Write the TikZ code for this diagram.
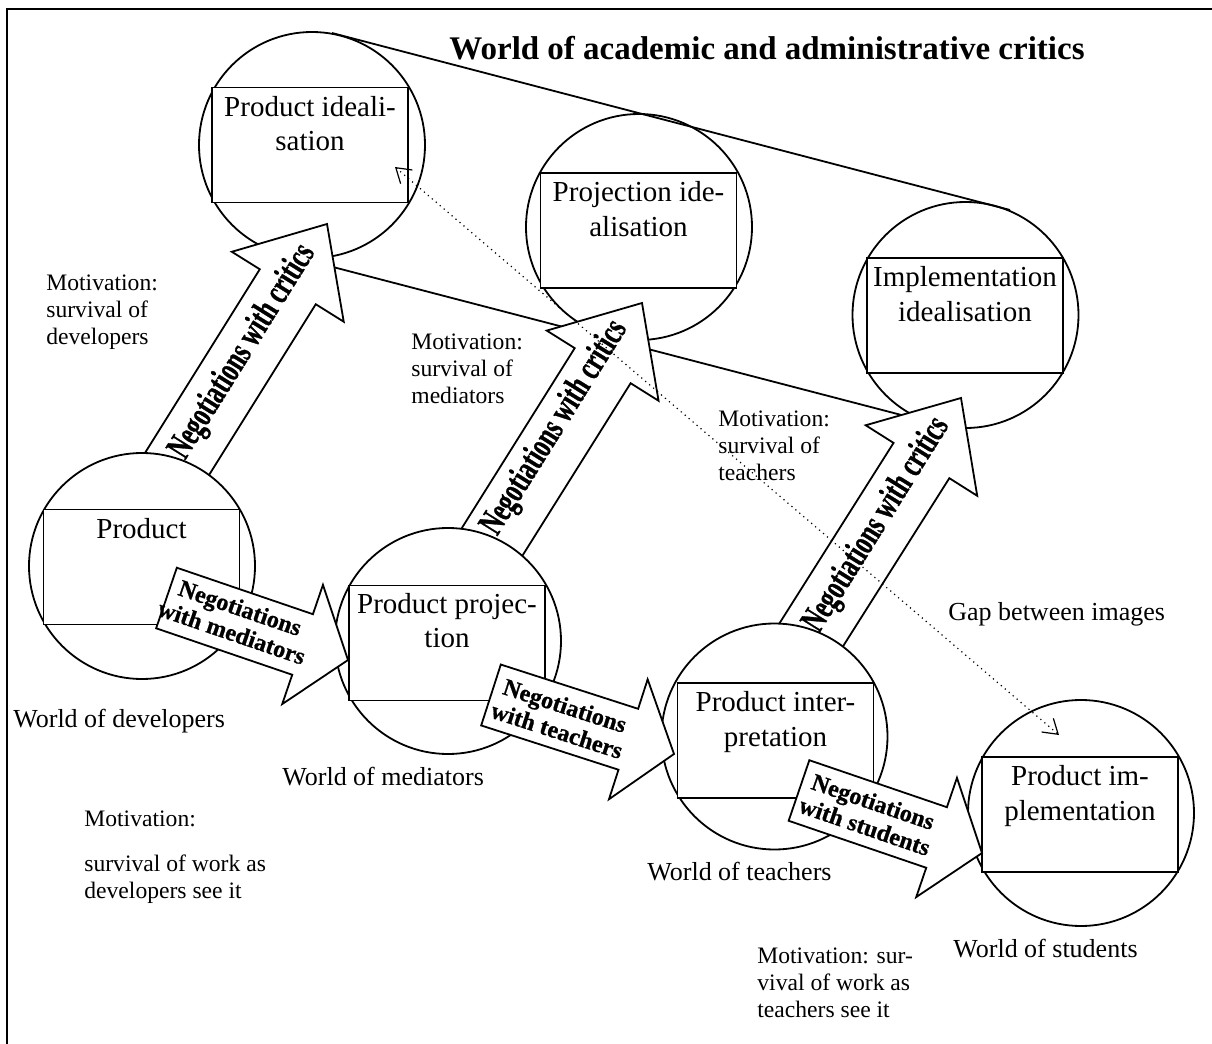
\documentclass[tikz,border=0pt]{standalone}
\usepackage{fontspec}
\setmainfont{Liberation Serif}
\newfontfamily\critfont{Liberation Serif}[FakeStretch=0.66, FakeBold=0.8]
\newfontfamily\negfont{Liberation Serif}[FakeBold=0.8]
\usetikzlibrary{calc,arrows.meta}

% block arrow: #1 tail, #2 tip, #3 half shaft width, #4 half head width, #5 head length
\newcommand\blockarrow[5]{%
  \coordinate (ba-base) at ($(#2)!#5!(#1)$);
  \draw[barrow] ($(#1)!#3!90:(#2)$) -- ($(ba-base)!#3!-90:(#1)$)
    -- ($(ba-base)!#4!-90:(#1)$) -- (#2) -- ($(ba-base)!#4!90:(#1)$)
    -- ($(ba-base)!#3!90:(#1)$) -- ($(#1)!#3!-90:(#2)$) -- cycle;}

\tikzset{
  world/.style={draw, circle, minimum size=113pt, inner sep=0pt, fill=white, line width=0.9pt},
  pbox/.style={draw, rectangle, minimum width=98pt, minimum height=57.5pt, inner sep=0pt, fill=white, line width=0.9pt},
  btext/.style={anchor=base, align=center, inner sep=0pt, font=\fontsize{14.5}{17.25}\selectfont},
  motiv/.style={anchor=base west, align=left, inner sep=0pt, font=\fontsize{11.8}{13.4}\selectfont},
  wlabel/.style={anchor=base west, inner sep=0pt, font=\fontsize{13}{15}\selectfont},
  barrow/.style={draw, fill=white, line width=0.9pt, line join=miter},
  crittext/.style={rotate=58, inner sep=0pt, font=\critfont\bfseries\fontsize{18}{18}\selectfont},
  negtext/.style={inner sep=0pt, align=center, font=\negfont\bfseries\fontsize{12}{13}\selectfont},
  link/.style={line width=0.9pt},
  gap/.style={dotted, line width=0.6pt, {Straight Barb[length=7pt,width=9pt]}-{Straight Barb[length=7pt,width=9pt]}}
}

\begin{document}
\begin{tikzpicture}[x=0.5pt, y=-0.5pt]
\useasboundingbox (0,0) rectangle (1212,1044);

% frame
\draw[line width=1pt] (7,1044) -- (7,9) -- (1212,9);

% worlds of idealisations (text anchored on its last baseline)
\node[world] (c1) at (312,145) {};
\node[pbox] (b1) at (310,145) {};
\node[btext] (tb1) at ([yshift=-32pt]b1.north) {Product ideali-\\sation};
\node[world] (c2) at (639,227) {};
\node[pbox] (b2) at (638.5,230.5) {};
\node[btext] (tb2) at ([yshift=-32pt]b2.north) {Projection ide-\\alisation};
\node[world] (c3) at (965.5,315) {};
\node[pbox] (b3) at (965,315.5) {};
\node[btext] (tb3) at ([yshift=-32pt]b3.north) {Implementation\\idealisation};

% common tangents of the idealisations
\coordinate (t1) at (332,33);
\coordinate (t3) at (1010,210);
\draw[link] (t1) -- (t3);
\coordinate (u1) at (283,254);
\coordinate (u3) at (936,424);
\draw[link] (u1) -- (u3);

% negotiations with critics
\coordinate (a1s) at (167,480); \coordinate (a1e) at (327,224);
\blockarrow{a1s}{a1e}{16.5pt}{33pt}{37pt}
\node[crittext] (na1) at (243,352) {Negotiations with critics};
\coordinate (a2s) at (482,558); \coordinate (a2e) at (642,303);
\blockarrow{a2s}{a2e}{16.5pt}{33pt}{37pt}
\node[crittext] (na2) at (555,428) {Negotiations with critics};
\coordinate (a3s) at (801,651); \coordinate (a3e) at (961,398);
\blockarrow{a3s}{a3e}{16.5pt}{33pt}{37pt}
\node[crittext] (na3) at (877,525) {Negotiations with critics};

% worlds of practice
\node[world] (c4) at (142,566) {};
\node[pbox] (b4) at (141.5,567) {};
\node[btext] (tb4) at ([yshift=-15pt]b4.north) {Product};
\node[world] (c5) at (448,641) {};
\node[pbox] (b5) at (447,643) {};
\node[btext] (tb5) at ([yshift=-31.5pt]b5.north) {Product projec-\\tion};
\node[world] (c6) at (774.5,736.5) {};
\node[pbox] (b6) at (775.5,740.5) {};
\node[btext] (tb6) at ([yshift=-32pt]b6.north) {Product inter-\\pretation};
\node[world] (c7) at (1081,813) {};
\node[pbox] (b7) at (1080,814.5) {};
\node[btext] (tb7) at ([yshift=-32pt]b7.north) {Product im-\\plementation};

% negotiations along the chain
\coordinate (m1s) at (166.5,598); \coordinate (m1e) at (348,660);
\blockarrow{m1s}{m1e}{16pt}{31.5pt}{24pt}
\node[negtext, rotate=-18.9] (nm) at (236,620) {Negotiations\\with mediators};
\coordinate (m2s) at (491,695); \coordinate (m2e) at (674,754);
\blockarrow{m2s}{m2e}{16pt}{31.5pt}{24pt}
\node[negtext, rotate=-17.9] (nt) at (561,718) {Negotiations\\with teachers};
\coordinate (m3s) at (799,790.5); \coordinate (m3e) at (982,853);
\blockarrow{m3s}{m3e}{16pt}{31.5pt}{24pt}
\node[negtext, rotate=-18.9] (ns) at (869,814) {Negotiations\\with students};

% gap between images
\coordinate (g1) at (395,167);
\coordinate (g2) at (1059,735);
\draw[gap] (g1) -- (g2);

% labels (multi-line ones anchored on their last baseline)
\node[anchor=base, inner sep=0pt, font=\bfseries\fontsize{16.5}{19}\selectfont] (title) at (767,60) {World of academic and administrative critics};
\node[motiv] (mo1) at (46,344) {Motivation:\\survival of\\developers};
\node[motiv] (mo2) at (411,403) {Motivation:\\survival of\\mediators};
\node[motiv] (mo3) at (718,480) {Motivation:\\survival of\\teachers};
\node[wlabel] (gapl) at (948,620) {Gap between images};
\node[wlabel] (w1) at (13,727) {World of developers};
\node[wlabel] (w2) at (282,785) {World of mediators};
\node[wlabel] (w3) at (647,880) {World of teachers};
\node[wlabel] (w4) at (953,957) {World of students};
\node[motiv] (mo4) at (84,898) {Motivation:\\[8.75pt]survival of work as\\developers see it};
\node[motiv] (mo5) at (757,1017) {Motivation: sur-\\vival of work as\\teachers see it};
\end{tikzpicture}
\end{document}
